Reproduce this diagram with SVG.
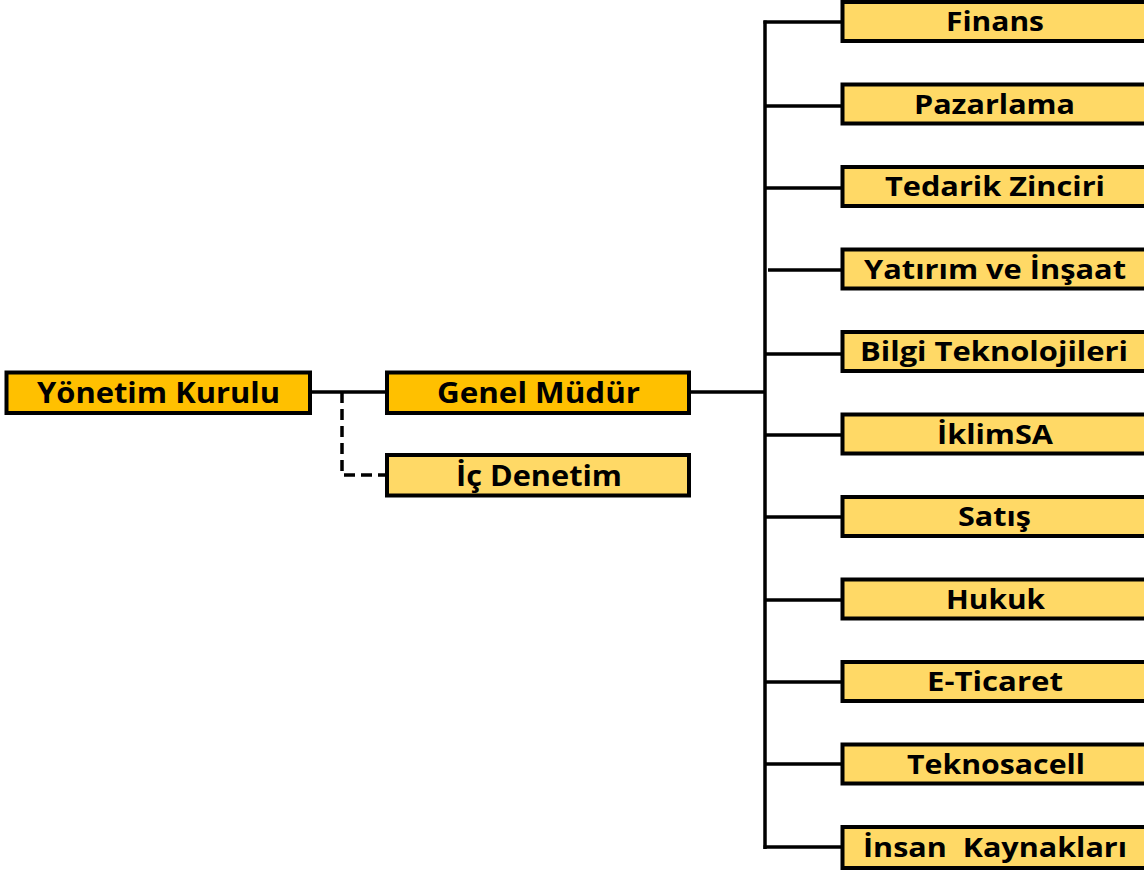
<svg xmlns="http://www.w3.org/2000/svg" width="1144" height="872" viewBox="0 0 1144 872">
<style>
.box{stroke:#000;stroke-width:4}
.dark{fill:#FFC000}
.light{fill:#FFD966}
.t{font-family:"Open Sans","Liberation Sans",sans-serif;font-weight:bold;fill:#000;text-anchor:middle}
.tl{font-size:28px}
.tr{font-size:26.5px}
.c{stroke:#000;stroke-width:3.5;fill:none}
</style>
<rect width="1144" height="872" fill="#fff"/>
<g id="connectors">
<line class="c" x1="310" y1="392" x2="387" y2="392"/>
<polyline class="c" points="342,392 342,475 386,475" stroke-dasharray="11,6"/>
<line class="c" x1="689" y1="392" x2="765" y2="392"/>
<line class="c" x1="765" y1="20.5" x2="765" y2="849"/>
<line class="c" x1="763.5" y1="22" x2="842" y2="22"/>
<line class="c" x1="765" y1="106" x2="842" y2="106"/>
<line class="c" x1="765" y1="188" x2="842" y2="188"/>
<line class="c" x1="768" y1="270" x2="842" y2="270"/>
<line class="c" x1="765" y1="354" x2="842" y2="354"/>
<line class="c" x1="765" y1="435" x2="842" y2="435"/>
<line class="c" x1="765" y1="517" x2="842" y2="517"/>
<line class="c" x1="765" y1="600" x2="842" y2="600"/>
<line class="c" x1="765" y1="682" x2="842" y2="682"/>
<line class="c" x1="765" y1="764" x2="842" y2="764"/>
<line class="c" x1="763.5" y1="847" x2="842" y2="847"/>
</g>
<g id="yonetim-kurulu"><rect class="box dark" x="6.5" y="372.5" width="303.5" height="40.5"/><text class="t tl" x="158.5" y="403" textLength="243" lengthAdjust="spacingAndGlyphs">Yönetim Kurulu</text></g>
<g id="genel-mudur"><rect class="box dark" x="387" y="372.5" width="302" height="40.5"/><text class="t tl" x="538.5" y="403" textLength="203" lengthAdjust="spacingAndGlyphs">Genel Müdür</text></g>
<g id="ic-denetim"><rect class="box light" x="387" y="455" width="302" height="40.5"/><text class="t tl" x="539" y="486" textLength="166" lengthAdjust="spacingAndGlyphs">İç Denetim</text></g>
<g id="finans"><rect class="box light" x="842.5" y="2" width="306" height="39"/><text class="t tr" x="995" y="31" textLength="98" lengthAdjust="spacingAndGlyphs">Finans</text></g>
<g id="pazarlama"><rect class="box light" x="842.5" y="84.5" width="306" height="39"/><text class="t tr" x="994.5" y="114" textLength="161" lengthAdjust="spacingAndGlyphs">Pazarlama</text></g>
<g id="tedarik-zinciri"><rect class="box light" x="842.5" y="167" width="306" height="39"/><text class="t tr" x="995" y="196" textLength="220" lengthAdjust="spacingAndGlyphs">Tedarik Zinciri</text></g>
<g id="yatirim-ve-insaat"><rect class="box light" x="842.5" y="249.5" width="306" height="39"/><text class="t tr" x="995" y="279" textLength="262" lengthAdjust="spacingAndGlyphs">Yatırım ve İnşaat</text></g>
<g id="bilgi-teknolojileri"><rect class="box light" x="842.5" y="332" width="306" height="39"/><text class="t tr" x="994" y="361" textLength="268" lengthAdjust="spacingAndGlyphs">Bilgi Teknolojileri</text></g>
<g id="iklimsa"><rect class="box light" x="842.5" y="414.5" width="306" height="39"/><text class="t tr" x="995" y="444" textLength="116" lengthAdjust="spacingAndGlyphs">İklimSA</text></g>
<g id="satis"><rect class="box light" x="842.5" y="497" width="306" height="39"/><text class="t tr" x="994.5" y="526" textLength="73" lengthAdjust="spacingAndGlyphs">Satış</text></g>
<g id="hukuk"><rect class="box light" x="842.5" y="579.5" width="306" height="39"/><text class="t tr" x="995.5" y="609" textLength="99" lengthAdjust="spacingAndGlyphs">Hukuk</text></g>
<g id="e-ticaret"><rect class="box light" x="842.5" y="662" width="306" height="39"/><text class="t tr" x="995" y="691" textLength="136" lengthAdjust="spacingAndGlyphs">E-Ticaret</text></g>
<g id="teknosacell"><rect class="box light" x="842.5" y="744.5" width="306" height="39"/><text class="t tr" x="996" y="774" textLength="178" lengthAdjust="spacingAndGlyphs">Teknosacell</text></g>
<g id="insan-kaynaklari"><rect class="box light" x="842.5" y="827" width="306" height="41"/><text class="t tr" x="995" y="857" xml:space="preserve" textLength="264" lengthAdjust="spacingAndGlyphs">İnsan  Kaynakları</text></g>
</svg>
